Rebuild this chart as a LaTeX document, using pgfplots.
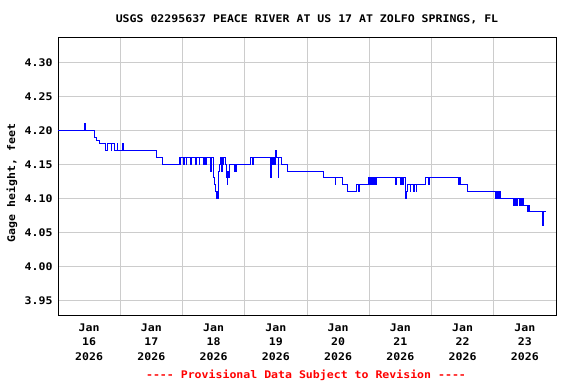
\documentclass[border=0pt]{standalone}
\usepackage{fontspec}
\usepackage{pgfplots}
\pgfplotsset{compat=1.18}
\newfontfamily\mono[FakeStretch=1.1]{DejaVu Sans Mono}
\newcommand{\mf}{\mono\bfseries\fontsize{10.5bp}{14.5bp}\selectfont}
\definecolor{gridgray}{RGB}{204,204,204}
\begin{document}
\begin{tikzpicture}
\useasboundingbox (0,0) rectangle (576bp,384bp);
\begin{axis}[
  at={(58bp,68bp)}, anchor=south west,
  scale only axis, width=498bp, height=278bp,
  xmin=0, xmax=8, ymin=3.9269, ymax=4.3357,
  xtick={0.5,1.5,2.5,3.5,4.5,5.5,6.5,7.5},
  xticklabels={{Jan\\16\\2026},{Jan\\17\\2026},{Jan\\18\\2026},{Jan\\19\\2026},{Jan\\20\\2026},{Jan\\21\\2026},{Jan\\22\\2026},{Jan\\23\\2026}},
  xticklabel style={font=\mf, align=center, yshift=-4bp},
  minor xtick={1,2,3,4,5,6,7},
  xminorgrids=true, xmajorgrids=false,
  ytick={3.95,4.00,4.05,4.10,4.15,4.20,4.25,4.30},
  yticklabels={3.95,4.00,4.05,4.10,4.15,4.20,4.25,4.30},
  yticklabel style={font=\mf, xshift=-2bp},
  ymajorgrids=true,
  grid style={gridgray, line width=1bp},
  minor grid style={gridgray, line width=1bp},
  major tick length=0pt, minor tick length=0pt,
  axis line style={black, line width=1bp},
  clip=true,
]
\addplot[blue, line width=0.9bp, const plot mark left] coordinates {
(0.000,4.20) (0.429,4.21) (0.443,4.20) (0.579,4.19) (0.622,4.185) (0.659,4.18)
(0.756,4.17) (0.793,4.18) (0.852,4.17) (0.862,4.18) (0.906,4.17) (0.954,4.18)
(0.962,4.17) (1.039,4.18) (1.048,4.17) (1.576,4.16) (1.683,4.15) (1.945,4.16)
(1.961,4.15) (1.975,4.16) (2.010,4.15) (2.025,4.16) (2.060,4.15) (2.070,4.16)
(2.133,4.15) (2.145,4.16) (2.210,4.15) (2.229,4.16) (2.267,4.15) (2.280,4.16)
(2.337,4.15) (2.350,4.16) (2.365,4.15) (2.379,4.16) (2.444,4.14) (2.458,4.16)
(2.497,4.13) (2.510,4.12) (2.530,4.11) (2.540,4.10) (2.552,4.11) (2.562,4.10)
(2.572,4.13) (2.583,4.14) (2.600,4.15) (2.612,4.16) (2.625,4.14) (2.635,4.16)
(2.652,4.15) (2.665,4.16) (2.685,4.15) (2.700,4.13) (2.717,4.12) (2.727,4.14)
(2.742,4.13) (2.755,4.15) (2.835,4.14) (2.845,4.15) (2.856,4.14) (2.866,4.15)
(3.087,4.16) (3.125,4.15) (3.137,4.16) (3.408,4.15) (3.420,4.13) (3.430,4.16)
(3.451,4.15) (3.463,4.16) (3.478,4.15) (3.488,4.16) (3.497,4.17) (3.515,4.16)
(3.538,4.13) (3.548,4.16) (3.596,4.15) (3.687,4.14) (4.266,4.13) (4.453,4.12)
(4.465,4.13) (4.566,4.12) (4.652,4.11) (4.802,4.12) (4.825,4.11) (4.837,4.12)
(4.989,4.13) (5.000,4.12) (5.012,4.13) (5.040,4.12) (5.052,4.13) (5.075,4.12)
(5.087,4.13) (5.105,4.12) (5.117,4.13) (5.418,4.12) (5.432,4.13) (5.500,4.12)
(5.512,4.13) (5.535,4.12) (5.548,4.13) (5.575,4.12) (5.583,4.10) (5.605,4.11)
(5.621,4.12) (5.655,4.11) (5.667,4.12) (5.710,4.11) (5.722,4.12) (5.752,4.11)
(5.764,4.12) (5.900,4.13) (5.955,4.12) (5.967,4.13) (6.436,4.12) (6.447,4.13)
(6.462,4.12) (6.575,4.11) (7.026,4.10) (7.040,4.11) (7.052,4.10) (7.065,4.11)
(7.079,4.10) (7.092,4.11) (7.106,4.10) (7.320,4.09) (7.332,4.10) (7.347,4.09)
(7.359,4.10) (7.374,4.09) (7.386,4.10) (7.417,4.09) (7.429,4.10) (7.444,4.09)
(7.456,4.10) (7.470,4.09) (7.545,4.08) (7.555,4.09) (7.577,4.08) (7.787,4.06)
(7.797,4.07) (7.805,4.08) (7.841,4.08)
};
\end{axis}
\node[font=\mf] at (307bp,365bp) {USGS 02295637 PEACE RIVER AT US 17 AT ZOLFO SPRINGS, FL};
\node[font=\mf, rotate=90] at (12bp,201bp) {Gage height, feet};
\node[font=\mf, text=red] at (306bp,9bp) {---- Provisional Data Subject to Revision ----};
\end{tikzpicture}
\end{document}
